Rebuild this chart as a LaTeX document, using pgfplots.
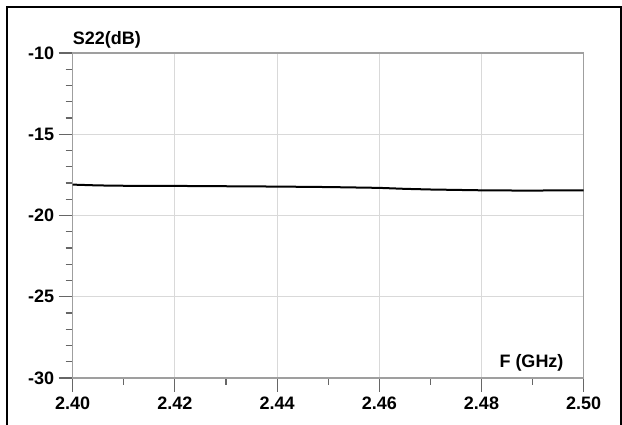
\documentclass[border=0pt]{standalone}
\usepackage{pgfplots}
\pgfplotsset{compat=1.18}
\usepackage{fontspec}
\setmainfont{Liberation Sans}
\begin{document}
\begin{tikzpicture}
\useasboundingbox (-72.7pt,-47pt) rectangle (549.3pt,378pt);
\draw[line width=1.6pt,black] (-65.7pt,-47pt) -- (-65.7pt,371pt) -- (548.3pt,371pt) -- (548.3pt,-47pt);
\begin{axis}[
  at={(0,0)}, anchor=south west,
  scale only axis, width=511pt, height=325pt,
  xmin=2.40, xmax=2.50, ymin=-30, ymax=-10,
  xtick={2.40,2.42,...,2.50},
  xticklabels={2.40,2.42,2.44,2.46,2.48,2.50},
  ytick={-30,-25,-20,-15,-10},
  minor xtick={2.41,2.43,2.45,2.47,2.49},
  minor y tick num=4,
  tick align=outside,
  xtick pos=left, ytick pos=left,
  major tick length=14pt, minor tick length=7pt,
  every tick/.style={gray!80!black, line width=1.1pt},
  axis line style={gray!75, line width=1.4pt},
  grid=major,
  major grid style={gray!30, line width=1.1pt},
  font=\fontsize{18}{20}\selectfont\bfseries,
  ticklabel style={font=\fontsize{18}{20}\selectfont\bfseries},
  /pgf/number format/assume math mode=true,
  yticklabel style={xshift=-1pt},
  xticklabel style={yshift=-1pt},
  clip=false,
]
\addplot[black, line width=2pt] coordinates {
(2.400,-18.10) (2.405,-18.15) (2.410,-18.17) (2.420,-18.18) (2.430,-18.20)
(2.440,-18.22) (2.450,-18.25) (2.460,-18.30) (2.465,-18.36) (2.470,-18.40)
(2.480,-18.45) (2.490,-18.47) (2.495,-18.45) (2.500,-18.45)
};
\node[anchor=south west, inner sep=0pt, font=\fontsize{18}{20}\selectfont\bfseries] at (axis description cs:0,1) [yshift=5pt] {S22(dB)};
\node[anchor=base east, inner sep=0pt, font=\fontsize{18}{20}\selectfont\bfseries] at (axis description cs:1,0) [xshift=-20pt, yshift=10pt] {F (GHz)};
\end{axis}
\end{tikzpicture}
\end{document}
